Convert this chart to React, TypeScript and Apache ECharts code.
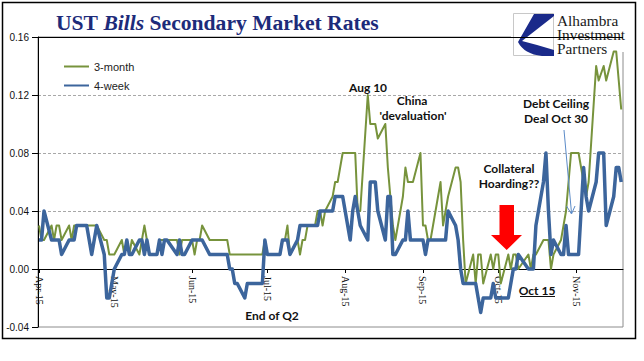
import React, { useEffect, useRef } from 'react';
import * as echarts from 'echarts';

// ---------- data ----------
const START_DATE = '2015-04-01';
const END_DATE = '2015-11-19';
const HOLIDAYS = ['2015-05-25', '2015-07-03', '2015-09-07', '2015-10-12', '2015-11-11'];
const MONTH_STARTS = ['2015-04-01', '2015-05-01', '2015-06-01', '2015-07-01', '2015-08-01', '2015-09-01', '2015-10-01', '2015-11-01'];
const MONTH_LABELS = ['Apr-15', 'May-15', 'Jun-15', 'Jul-15', 'Aug-15', 'Sep-15', 'Oct-15', 'Nov-15'];

// 3-month bill rate (%), business days
const m3Apr = [0.03, 0.02, 0.02, 0.03, 0.02, 0.03, 0.03, 0.02, 0.03, 0.02, 0.03, 0.03, 0.03, 0.03, 0.03, 0.03, 0.03, 0.03, 0.02, 0.02, 0.01, 0.01];
const m3May = [0.01, 0.02, 0.01, 0.02, 0.01, 0.02, 0.01, 0.02, 0.03, 0.02, 0.01, 0.01, 0.02, 0.02, 0.02, 0.02, 0.02, 0.01, 0.02, 0.02];
const m3Jun = [0.02, 0.01, 0.02, 0.02, 0.03, 0.02, 0.02, 0.02, 0.02, 0.02, 0.02, 0.01, 0.01, 0.01, 0.01, 0.01, 0.01, 0.01, 0.01, 0.01, 0.01, 0.02];
const m3Jul = [0.01, 0.01, 0.01, 0.02, 0.02, 0.03, 0.01, 0.02, 0.01, 0.02, 0.02, 0.03, 0.03, 0.04, 0.04, 0.03, 0.04, 0.05, 0.06, 0.06, 0.07, 0.08];
const m3Aug = [0.08, 0.08, 0.08, 0.04, 0.04, 0.12, 0.10, 0.10, 0.10, 0.09, 0.10, 0.07, 0.05, 0.03, 0.02, 0.05, 0.07, 0.06, 0.06, 0.06, 0.08];
const m3Sep = [0.03, 0.03, 0.02, 0.02, 0.06, 0.03, 0.04, 0.05, 0.07, 0.07, 0.06, 0.02, -0.01, 0.01, -0.01, 0.01, 0.01, -0.01, 0.01, 0.00, 0.01];
const m3Oct = [0.01, -0.01, 0.01, 0.00, 0.01, 0.01, 0.00, 0.01, 0.00, 0.01, 0.01, 0.02, 0.02, 0.02, 0.00, 0.01, 0.02, 0.03, 0.04, 0.06, 0.08];
const m3Nov = [0.08, 0.07, 0.06, 0.05, 0.06, 0.14, 0.13, 0.14, 0.13, 0.15, 0.15, 0.13, 0.11];

// 4-week bill rate (%), business days
const w4Apr = [0.02, 0.02, 0.04, 0.02, 0.02, 0.02, 0.02, 0.01, 0.02, 0.02, 0.02, 0.03, 0.03, 0.03, 0.02, 0.01, 0.02, 0.03, 0.01, -0.02, -0.02, -0.01];
const w4May = [0.00, 0.01, 0.01, 0.02, 0.01, 0.01, 0.02, 0.02, 0.01, 0.02, 0.01, 0.01, 0.02, 0.01, 0.02, 0.02, 0.01, 0.02, 0.01, 0.01];
const w4Jun = [0.02, 0.02, 0.02, 0.02, 0.02, 0.01, 0.01, 0.01, 0.01, 0.01, 0.01, 0.00, 0.00, -0.01, -0.01, -0.02, -0.01, -0.01, -0.01, -0.01, -0.01, 0.02];
const w4Jul = [0.01, 0.01, 0.01, 0.02, 0.02, 0.02, 0.01, 0.02, 0.03, 0.03, 0.03, 0.03, 0.03, 0.03, 0.04, 0.04, 0.04, 0.04, 0.05, 0.05, 0.05, 0.05];
const w4Aug = [0.02, 0.04, 0.05, 0.04, 0.03, 0.02, 0.06, 0.06, 0.06, 0.04, 0.02, 0.05, 0.05, 0.01, 0.01, 0.02, 0.02, 0.04, 0.02, 0.02, 0.02];
const w4Sep = [0.02, 0.01, 0.02, 0.02, 0.02, 0.02, 0.02, 0.04, 0.03, 0.02, 0.00, -0.01, -0.01, -0.01, -0.01, -0.02, -0.03, -0.02, -0.02, -0.01, -0.02];
const w4Oct = [-0.02, -0.02, -0.02, -0.01, 0.00, 0.00, 0.01, 0.00, 0.00, 0.00, 0.03, 0.06, 0.08, 0.04, 0.01, 0.02, 0.01, 0.01, 0.03, 0.01, 0.01];
const w4Nov = [0.01, 0.04, 0.07, 0.05, 0.04, 0.06, 0.08, 0.08, 0.03, 0.05, 0.07, 0.07, 0.06];

const Y_MIN = -0.04;
const Y_MAX = 0.16;
const Y_STEP = 0.04;

const SERIES_NAMES = ['3-month', '4-week'];
const LOGO_LINES = ['Alhambra', 'Investment', 'Partners'];

// ---------- layout ----------
const W = 644;
const H = 361;
const G_LEFT = 38;
const G_RIGHT = 21;
const G_TOP = 37;
const G_BOTTOM = 34;
const X_MIN = -0.4;
const X_MAX = 232.7;

// ---------- helpers ----------
const DAY_MS = 86400000;
const T0 = Date.parse(START_DATE + 'T00:00:00Z');
const dayOffset = (iso: string) => Math.round((Date.parse(iso + 'T00:00:00Z') - T0) / DAY_MS);

function businessDays(): string[] {
  const out: string[] = [];
  const end = Date.parse(END_DATE + 'T00:00:00Z');
  for (let t = T0; t <= end; t += DAY_MS) {
    const d = new Date(t);
    const wd = d.getUTCDay();
    const iso = d.toISOString().slice(0, 10);
    if (wd === 0 || wd === 6 || HOLIDAYS.includes(iso)) continue;
    out.push(iso);
  }
  return out;
}

let logoRegistered = false;
function registerLogo() {
  if (logoRegistered) return;
  const d = 'M20 0 L40 0 L40 2 L8 27 Q24 31 40 36 L40 42 L28 42 Q10 40 4 28 Z';
  echarts.graphic.registerShape('aipLogo', (echarts.graphic as any).extendPath(d, {}));
  logoRegistered = true;
}

export default function App() {
  const ref = useRef<HTMLDivElement>(null);

  useEffect(() => {
    if (!ref.current) return;
    registerLogo();
    const chart = echarts.init(ref.current, undefined, { renderer: 'svg' });

    const days = businessDays();
    const m3 = [...m3Apr, ...m3May, ...m3Jun, ...m3Jul, ...m3Aug, ...m3Sep, ...m3Oct, ...m3Nov];
    const w4 = [...w4Apr, ...w4May, ...w4Jun, ...w4Jul, ...w4Aug, ...w4Sep, ...w4Oct, ...w4Nov];
    const m3Data = days.map((d, i) => [dayOffset(d), m3[i]]);
    const w4Data = days.map((d, i) => [dayOffset(d), w4[i]]);
    const tickDays = MONTH_STARTS.map(dayOffset);
    const labelFor = (v: number) => {
      const i = tickDays.indexOf(Math.round(v));
      return i >= 0 ? MONTH_LABELS[i] : '';
    };

    // pixel row of the zero line inside the main grid
    const plotH = H - G_TOP - G_BOTTOM;
    const zeroY = G_TOP + (Y_MAX / (Y_MAX - Y_MIN)) * plotH;

    const annFont = 'bold 12px Lato';
    const annColor = '#111';
    const ann = (text: string, x: number, y: number) => ({
      type: 'text',
      x,
      y,
      z: 50,
      style: { text, fill: annColor, font: annFont, textAlign: 'center', textVerticalAlign: 'middle' },
    });

    chart.setOption({
      animation: false,
      backgroundColor: '#fff',
      title: {
        left: 51,
        top: 7,
        text: '{a|UST }{b|Bills}{a| Secondary Market Rates}',
        textStyle: {
          rich: {
            a: { fontFamily: 'Liberation Serif', fontSize: 21.6, color: '#1d2b7a' },
            b: { fontFamily: 'Liberation Serif', fontSize: 21.6, fontStyle: 'italic', color: '#1d2b7a' },
          },
        },
      },
      legend: {
        data: SERIES_NAMES,
        orient: 'vertical',
        left: 58,
        top: 56,
        itemWidth: 25,
        itemHeight: 12,
        itemGap: 8,
        itemStyle: { opacity: 0 },
        textStyle: { fontFamily: 'Liberation Sans', fontSize: 11, color: '#222' },
      },
      grid: [
        {
          left: G_LEFT,
          right: G_RIGHT,
          top: G_TOP,
          bottom: G_BOTTOM,
          show: true,
          borderColor: '#8c8c8c',
          borderWidth: 1,
          backgroundColor: 'transparent',
          outerBoundsMode: 'none',
          containLabel: false,
        },
        {
          left: G_LEFT,
          right: G_RIGHT,
          top: zeroY,
          bottom: G_BOTTOM,
          show: false,
          outerBoundsMode: 'none',
          containLabel: false,
        },
      ],
      xAxis: [
        {
          gridIndex: 0,
          type: 'value',
          min: X_MIN,
          max: X_MAX,
          show: false,
          splitLine: { show: false },
        },
        {
          gridIndex: 1,
          type: 'value',
          position: 'top',
          min: X_MIN,
          max: X_MAX,
          axisLine: { show: true, onZero: false, lineStyle: { color: '#000', width: 1 } },
          axisTick: { show: true, inside: true, customValues: tickDays, length: 4, lineStyle: { color: '#000' } },
          axisLabel: {
            show: true,
            inside: true,
            customValues: tickDays,
            rotate: 90,
            margin: 7,
            formatter: (v: number) => labelFor(v),
            fontFamily: 'Liberation Serif',
            fontSize: 10,
            color: '#111',
          },
          splitLine: { show: false },
        },
      ],
      yAxis: [
        {
          gridIndex: 0,
          type: 'value',
          min: Y_MIN,
          max: Y_MAX,
          interval: Y_STEP,
          axisLine: { show: true, onZero: false, lineStyle: { color: '#000', width: 1 } },
          axisTick: { show: true, length: 6, lineStyle: { color: '#000' } },
          axisLabel: {
            margin: 9,
            fontFamily: 'Liberation Sans',
            fontSize: 10,
            color: '#111',
            formatter: (v: number) => (Math.abs(v) < 1e-9 ? '0.00' : v.toFixed(2)),
          },
          splitLine: {
            show: true,
            showMinLine: false,
            showMaxLine: false,
            lineStyle: { color: '#a8a8a8', type: [3, 2], width: 1 },
          },
        },
        {
          gridIndex: 1,
          type: 'value',
          min: 0,
          max: 1,
          show: false,
        },
      ],
      series: [
        {
          name: SERIES_NAMES[0],
          type: 'line',
          xAxisIndex: 0,
          yAxisIndex: 0,
          data: m3Data,
          symbol: 'none',
          z: 2,
          lineStyle: { color: '#77933c', width: 2, join: 'round' },
          itemStyle: { color: '#77933c' },
          markLine: {
            silent: true,
            symbol: ['none', 'none'],
            label: { show: false },
            lineStyle: { color: '#000', type: 'solid', width: 1 },
            data: [{ yAxis: Y_MAX }],
          },
        },
        {
          name: SERIES_NAMES[1],
          type: 'line',
          xAxisIndex: 0,
          yAxisIndex: 0,
          data: w4Data,
          symbol: 'none',
          z: 3,
          lineStyle: { color: '#3c659c', width: 3.5, join: 'round' },
          itemStyle: { color: '#3c659c' },
        },
      ],
      graphic: [
        // outer frame
        {
          type: 'rect',
          z: 60,
          shape: { x: 2.5, y: 2.5, width: 633, height: 336 },
          style: { fill: 'none', stroke: '#000', lineWidth: 1.5 },
        },
        // logo
        {
          type: 'group',
          z: 70,
          children: [
            { type: 'rect', shape: { x: 511, y: 9, width: 123, height: 43 }, style: { fill: '#fff' } },
            { type: 'rect', shape: { x: 513.5, y: 13.5, width: 40, height: 42 }, style: { fill: '#fff', stroke: '#c8c8c8', lineWidth: 1 } },
            { type: 'aipLogo', x: 514, y: 14, scaleX: 1, scaleY: 1, style: { fill: '#1a2a8a' } },
            ...LOGO_LINES.map((t, i) => ({
              type: 'text',
              x: 557,
              y: 21 + i * 14,
              scaleX: 1.18,
              scaleY: 1.12,
              style: {
                text: t,
                font: '13px Liberation Serif',
                fill: '#1a1a1a',
                textAlign: 'left',
                textVerticalAlign: 'middle',
              },
            })),
          ],
        },
        // annotations
        ann('Aug 10', 368, 87),
        ann('China', 412, 100),
        ann("'devaluation'", 413, 115),
        ann('Collateral', 509, 168),
        ann('Hoarding??', 509, 183),
        ann('Debt Ceiling', 556, 103),
        ann('Deal Oct 30', 556, 118),
        ann('End of Q2', 272, 315),
        ann('Oct 15', 537, 290),
        { type: 'line', z: 50, shape: { x1: 520, y1: 296.5, x2: 555, y2: 296.5 }, style: { stroke: '#111', lineWidth: 1 } },
        // debt ceiling pointer
        { type: 'line', z: 50, shape: { x1: 564, y1: 130, x2: 571.5, y2: 213 }, style: { stroke: '#5b8bc8', lineWidth: 1 } },
        { type: 'polyline', z: 50, shape: { points: [[566.5, 206], [571.5, 214], [575, 206]] }, style: { stroke: '#5b8bc8', lineWidth: 1, fill: 'none' } },
        // red arrow
        {
          type: 'polygon',
          z: 50,
          shape: { points: [[499.5, 205], [514, 205], [514, 235], [522, 235], [506.7, 250], [491, 235], [499.5, 235]] },
          style: { fill: '#ff0000' },
        },
      ],
    });

    return () => chart.dispose();
  }, []);

  return <div ref={ref} style={{ position: 'fixed', left: 0, top: 0, width: W, height: H }} />;
}
